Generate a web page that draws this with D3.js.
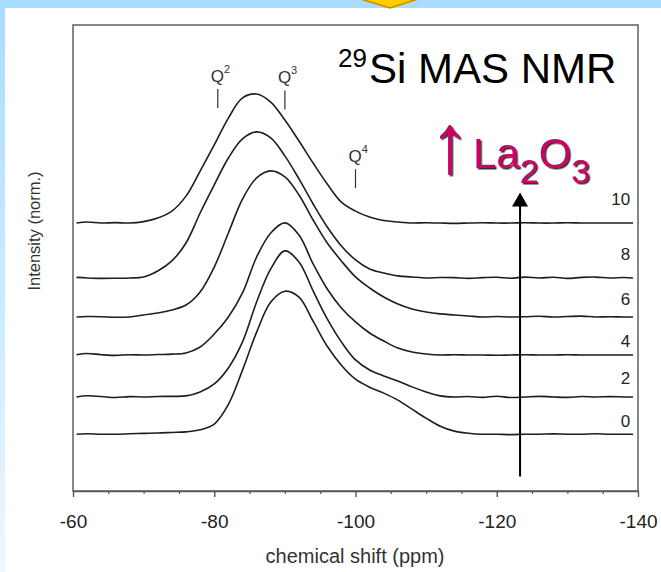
<!DOCTYPE html>
<html><head><meta charset="utf-8">
<script src="https://cdn.jsdelivr.net/npm/d3@7"></script>
<style>html,body{margin:0;padding:0;overflow:hidden;background:#fff}</style>
</head><body>
<svg id="chart" width="661" height="572"></svg>
<script>
// ---- data ----
const ppm = [-60.5,-62,-64,-66,-68,-70,-72,-74,-76,-78,-80,-82,-84,-86,-88,-90,-92,-94,-96,-98,-100,-102,-104,-106,-108,-110,-112,-114,-116,-118,-120,-122,-124,-126,-128,-130,-132,-134,-136,-138,-139.3];
const seriesLabels = ["0","2","4","6","8","10"];
const baselines = [39, 64.6, 93.4, 119.5, 146.3, 184];
const labelLevels = [44, 73.5, 98.9, 127.7, 158.7, 196.4];
const s0 = [0,0.3,0,0,0.3,0.6,0.8,1.2,1.6,3,7,20.5,44,70.1,90.7,98.2,94.1,77.6,60.4,47.4,37.8,32.3,28.2,23.4,17.2,11,5.5,2.1,0.7,0,0,-0.3,0,0,0.2,0,0,0.3,0,0,0];
const s2 = [0,0.8,0.3,-0.4,0.2,0,0.3,0.4,0.7,3.4,8.9,19.9,37.8,65.2,87.9,100.3,92.7,72.8,53.6,37.8,25.4,18.5,14.4,11,6.9,3.4,0.7,0,0.3,-0.3,0.5,-0.4,0,0.4,0,-0.3,0.3,0,0.2,0,0];
const s4 = [0.2,1,0.2,-0.3,0.2,0,0.3,0.6,1.4,5.5,14.4,26.1,42.6,67.3,83.8,90.7,82.4,62.5,45.3,32.3,22.7,15.1,9.6,4.8,2.1,0.7,0,0.2,0,0,-0.2,0,0.2,0,0,0.2,0,0,0,0,0];
const s6 = [0,0.3,0.2,-0.2,0,1.4,2.7,4.8,8.2,17.2,34.3,57.7,81,95.5,100.3,96.2,83.8,66.6,50.8,38.5,27.5,19.9,13.7,8.9,5.5,3.4,2.1,1.4,0.7,0,0.3,0,0.2,0.5,0,0.3,0.6,0,0.2,0,0];
const s8 = [0.4,0,-0.3,-0.2,0,0.7,4.8,11.7,24,44.6,63.9,82.4,95.5,100.3,96.2,83.8,68,50.8,35,22,12.4,6.2,3.4,1.4,0.7,0,0.3,0.2,-0.3,0.2,0.5,-0.2,0.6,0,0.5,-0.3,0.4,0.6,0,0.3,0];
const s10 = [0,0.7,0,0.3,0,1,3.4,8.2,18.5,35.7,53.6,72.1,85.9,88.6,83.1,70.7,56.3,41.2,26.8,14.4,8.2,4.1,1.7,0.7,0,0.2,0,-0.2,0,0.2,0,0,0.2,0,0,0.2,0,0,0,0,0];
const seriesValues = [s0, s2, s4, s6, s8, s10];
const xTicks = [-60,-80,-100,-120,-140];
const qNames = ["2","3","4"];
const qPpm = [-80.5,-90,-100];
const qLevel = [263, 262, 208];
const arrowPpm = -123.3;
const arrowRange = [10, 205];

// ---- drawing ----
const W = 661, H = 572;
const FONT = "'Liberation Sans', Arial, Helvetica, sans-serif";
const svg = d3.select("#chart");
const defs = svg.append("defs");
const g = defs.append("linearGradient").attr("id","bg").attr("x1",0).attr("y1",0).attr("x2",0).attr("y2",1);
g.append("stop").attr("offset","0%").attr("stop-color","#a8dcff");
g.append("stop").attr("offset","100%").attr("stop-color","#eef7ff");
const f = defs.append("filter").attr("id","shadow").attr("x","-10%").attr("y","-10%").attr("width","130%").attr("height","130%");
f.append("feDropShadow").attr("dx",1.5).attr("dy",1.5).attr("stdDeviation",0.3).attr("flood-color","#333").attr("flood-opacity",1);

svg.append("rect").attr("width",W).attr("height",H).attr("fill","url(#bg)");
svg.append("rect").attr("x",5).attr("y",8).attr("width",W-5).attr("height",H-8).attr("fill","#ffffff");
// yellow arrow tip at top
svg.append("path").attr("d","M357,-2 L421,-2 L390,8 Z").attr("fill","#ffcc00").attr("stroke","#c98a00").attr("stroke-width",1.5);

const x = d3.scaleLinear().domain([-60,-140]).range([73,638]);
const y = d3.scaleLinear().domain([0,320]).range([491,25]);

// frame
svg.append("rect").attr("x",x(-60)).attr("y",y(320)).attr("width",x(-140)-x(-60)).attr("height",y(0)-y(320))
  .attr("fill","none").attr("stroke","#555").attr("stroke-width",1.4);

// x axis
const axisG = svg.append("g").attr("transform",`translate(0,${y(0)})`)
  .call(d3.axisBottom(x).tickValues(xTicks).tickSize(6).tickSizeOuter(0).tickPadding(18).tickFormat(d=>String(d)));
axisG.select(".domain").attr("stroke","#555").attr("stroke-width",1.4);
axisG.selectAll(".tick line").attr("stroke","#555").attr("stroke-width",1.4);
axisG.selectAll(".tick text").attr("font-family",FONT).attr("font-size",19).attr("fill","#222");
const minor = d3.range(-65,-140,-5).filter(d=>d%20!==0);
const minG = svg.append("g").attr("transform",`translate(0,${y(0)})`)
  .call(d3.axisBottom(x).tickValues(minor).tickSize(3).tickSizeOuter(0).tickFormat(""));
minG.select(".domain").remove();
minG.selectAll(".tick line").attr("stroke","#555").attr("stroke-width",1.2);

svg.append("text").attr("x",355).attr("y",563).attr("text-anchor","middle")
  .attr("font-family",FONT).attr("font-size",20).attr("fill","#333").text("chemical shift (ppm)");
svg.append("text").attr("transform","translate(40,231) rotate(-90)").attr("text-anchor","middle")
  .attr("font-family",FONT).attr("font-size",16.5).attr("fill","#333").text("Intensity (norm.)");

// spectra
const line = d3.line().curve(d3.curveCatmullRom.alpha(0.5));
seriesValues.forEach((vals,i)=>{
  const pts = vals.map((v,j)=>[x(ppm[j]), y(baselines[i]+v)]);
  svg.append("path").attr("d",line(pts)).attr("fill","none").attr("stroke","#1e1e1e").attr("stroke-width",1.6);
  svg.append("text").attr("x",x(-138.9)).attr("y",y(labelLevels[i])).attr("text-anchor","end")
    .attr("font-family",FONT).attr("font-size",17).attr("fill","#222").text(seriesLabels[i]);
});

// Q markers
qNames.forEach((q,i)=>{
  const px = x(qPpm[i]), py = y(qLevel[i]);
  svg.append("line").attr("x1",px).attr("x2",px).attr("y1",py).attr("y2",py-19).attr("stroke","#333").attr("stroke-width",1.2);
  const t = svg.append("text").attr("x",px-7).attr("y",py-26).attr("font-family",FONT).attr("font-size",17).attr("fill","#333");
  t.append("tspan").text("Q");
  t.append("tspan").attr("font-size",11).attr("dy",-9).text(q);
});

// title
svg.append("text").attr("x",338).attr("y",67).attr("font-family",FONT).attr("font-size",26).attr("fill","#000").text("29");
svg.append("text").attr("x",369).attr("y",83).attr("font-family",FONT).attr("font-size",42).attr("fill","#000").text("Si MAS NMR");

// ↑La2O3 label with drop shadow
svg.append("text").attr("x",429).attr("y",172).attr("font-family",FONT).attr("font-size",84)
  .attr("fill","#cc0066").attr("filter","url(#shadow)").text("\u2191");
const t = svg.append("text").attr("x",473).attr("y",168).attr("font-family",FONT).attr("font-size",42)
  .attr("fill","#cc0066").attr("filter","url(#shadow)");
t.append("tspan").text("La");
t.append("tspan").attr("font-size",34).attr("dy",15).text("2");
t.append("tspan").attr("dy",-15).text("O");
t.append("tspan").attr("font-size",34).attr("dy",15).text("3");

// vertical arrow
const ax = x(arrowPpm);
svg.append("line").attr("x1",ax).attr("x2",ax).attr("y1",y(arrowRange[0])).attr("y2",y(arrowRange[1])+12).attr("stroke","#000").attr("stroke-width",2);
svg.append("path").attr("d",`M${ax},${y(arrowRange[1])} L${ax-8},${y(arrowRange[1])+14} L${ax+8},${y(arrowRange[1])+14} Z`).attr("fill","#000");
</script>
</body></html>
